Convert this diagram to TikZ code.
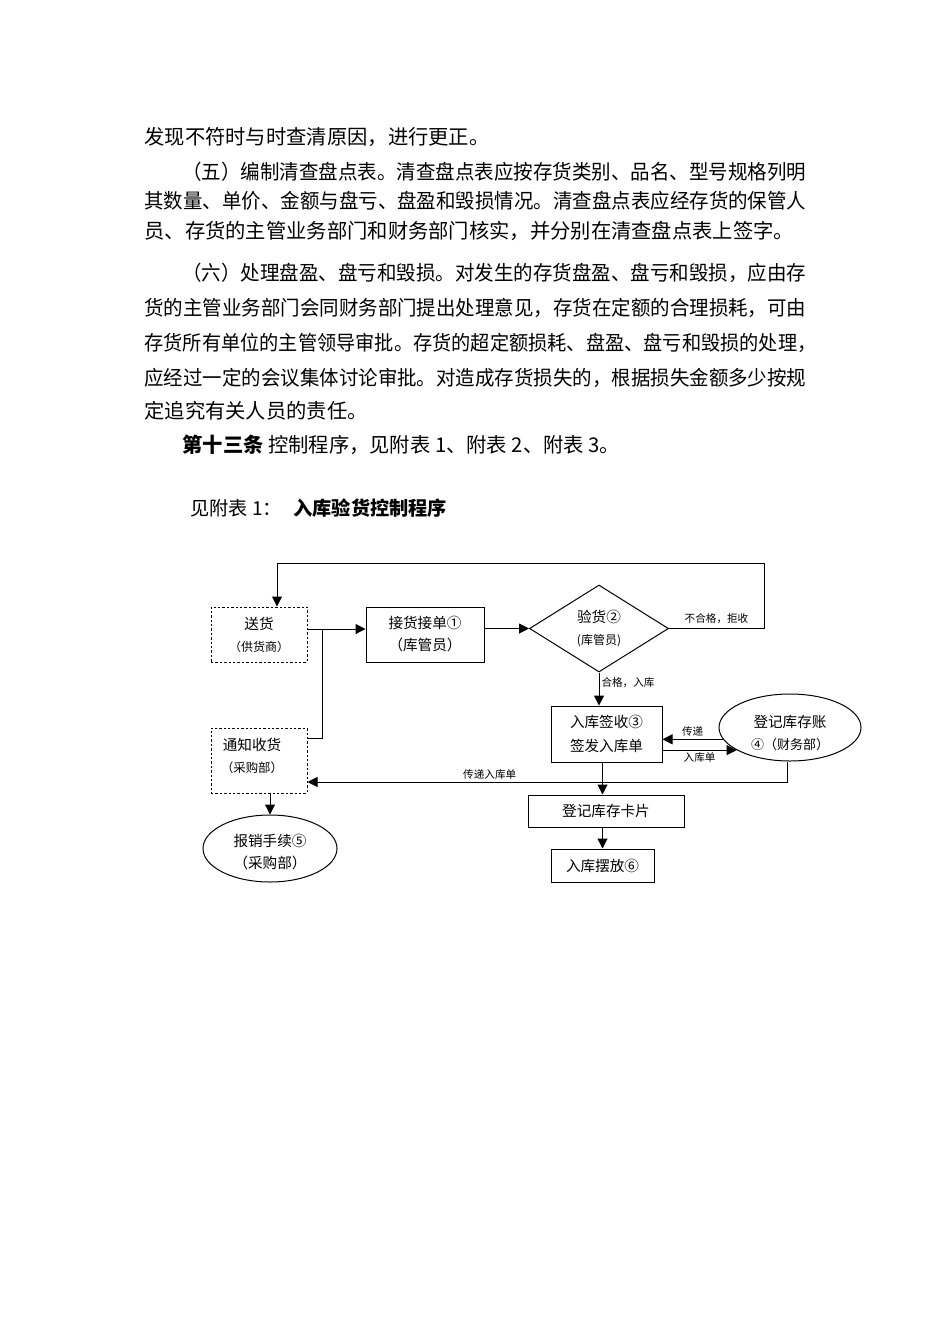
\documentclass[tikz,border=0pt]{standalone}
\usepackage{fontspec}
\usepackage{graphicx}
\setmainfont{Noto Sans CJK SC}
\usetikzlibrary{arrows.meta,shapes.geometric}
\newcommand{\bodysize}{\fontsize{10.15pt}{13pt}\selectfont}
\newcommand{\titlesize}{\fontsize{9.6pt}{12pt}\selectfont}
\newcommand{\boxsize}{\fontsize{7.3pt}{11pt}\selectfont}
\newcommand{\tagsize}{\fontsize{5.3pt}{7pt}\selectfont}
\newcommand{\fsz}[1]{\fontsize{#1}{11pt}\selectfont}
\newcommand{\fitline}[2]{\resizebox{#1}{\height}{#2}}
\begin{document}
\begin{tikzpicture}[x=0.5pt,y=-0.5pt,
  para/.style={anchor=west, inner sep=0pt, font=\bodysize},
  box/.style={draw, line width=0.5pt, align=center, inner sep=0pt, font=\boxsize},
  dbox/.style={box, dash pattern=on 1.2pt off 1pt},
  oval/.style={box, ellipse},
  flow/.style={line width=0.5pt, -{Triangle[length=5pt,width=5pt]}},
  link/.style={line width=0.5pt},
  tag/.style={font=\tagsize, inner sep=1pt}]
\useasboundingbox (0,0) rectangle (950,1344);
\fill[white] (0,0) rectangle (950,1344);

% body text
\node[para] (t1) at (144,137) {发现不符时与时查清原因，进行更正。};
\node[para] (t2) at (182,172) {\fitline{312pt}{（五）编制清查盘点表。清查盘点表应按存货类别、品名、型号规格列明}};
\node[para] (t3) at (144,201) {\fitline{331pt}{其数量、单价、金额与盘亏、盘盈和毁损情况。清查盘点表应经存货的保管人}};
\node[para] (t4) at (144,231) {员、存货的主管业务部门和财务部门核实，并分别在清查盘点表上签字。};
\node[para] (t5) at (182,273) {\fitline{312pt}{（六）处理盘盈、盘亏和毁损。对发生的存货盘盈、盘亏和毁损，应由存}};
\node[para] (t6) at (144,308) {\fitline{331pt}{货的主管业务部门会同财务部门提出处理意见，存货在定额的合理损耗，可由}};
\node[para] (t7) at (144,343) {\fitline{336pt}{存货所有单位的主管领导审批。存货的超定额损耗、盘盈、盘亏和毁损的处理，}};
\node[para] (t8) at (144,378) {\fitline{331pt}{应经过一定的会议集体讨论审批。对造成存货损失的，根据损失金额多少按规}};
\node[para] (t9) at (144,411) {定追究有关人员的责任。};
\node[para] (t10) at (182,445) {\textbf{第十三条} 控制程序，见附表 1、附表 2、附表 3。};
\node[para, font=\titlesize] (cap) at (190,508) {见附表 1：};
\node[para, font=\titlesize\bfseries] (title) at (293,508) {入库验货控制程序};

% flow chart
\node[dbox, minimum width=48pt, minimum height=27.5pt] (songhuo) at (259,634.5) {送货\\{\fsz{6pt}（供货商）}};
\node[box, minimum width=59pt, minimum height=27.5pt] (jiehuo) at (425,634.5) {接货接单①\\{\fsz{7.3pt}（库管员）}};
\node[box, diamond, minimum width=69.5pt, minimum height=43.5pt] (yanhuo) at (599,628.5) {验货②\\{\fsz{6pt}(库管员)}};
\node[box, minimum width=55.5pt, minimum height=28pt] (ruku) at (606.5,734) {入库签收③\\[1pt]签发入库单};
\node[oval, minimum width=71pt, minimum height=33.5pt,
  label={[font=\boxsize, align=center, yshift=-2.5pt]center:{登记库存账\\{\fsz{6.5pt}④（财务部）}}}] (zhang) at (790,727.5) {};
\node[box, minimum width=78pt, minimum height=16pt] (kapian) at (606,811) {登记库存卡片};
\node[box, minimum width=51.5pt, minimum height=16.5pt] (baifang) at (602.5,865.5) {入库摆放⑥};
\node[dbox, minimum width=48pt, minimum height=32.5pt,
  label={[font=\boxsize, align=center, xshift=-3.5pt, yshift=2.5pt]center:{通知收货\\{\fsz{6.2pt}（采购部）}}}] (tongzhi) at (259,760.5) {};
\node[oval, minimum width=67pt, minimum height=33.5pt,
  label={[font=\boxsize, align=center, yshift=-2pt]center:{报销手续⑤\\（采购部）}}] (baoxiao) at (270,848.5) {};

\coordinate (junc) at (322,629);
\coordinate (fbtop) at (764,563);
\coordinate (ret) at (787,782);

\draw[flow] (yanhuo.east) -| node[tag, pos=0.25, above, yshift=1pt] {不合格，拒收} (fbtop) -| ([xshift=9pt]songhuo.north);
\draw[flow] (songhuo.east |- junc) -- (jiehuo.west |- junc);
\draw[link] ([yshift=11.25pt]tongzhi.east) -| (junc);
\draw[flow] (jiehuo.east |- yanhuo.west) -- (yanhuo.west);
\draw[flow] (yanhuo.south) -- node[tag, right, pos=0.32] {合格，入库} (yanhuo.south |- ruku.north);
\draw[flow] (zhang.190) -- node[tag, above] {传递} (zhang.190 -| ruku.east);
\draw[flow] (zhang.203 -| ruku.east) -- node[tag, below] {入库单} (zhang.203);
\draw[flow] (ret |- zhang.south) |- node[tag, pos=0.81, above] {传递入库单} (tongzhi.east |- ret);
\draw[flow] (ruku.south -| baifang.north) -- (kapian.north -| baifang.north);
\draw[flow] (kapian.south -| baifang.north) -- (baifang.north);
\draw[flow] (baoxiao.north |- tongzhi.south) -- (baoxiao.north);
\end{tikzpicture}
\end{document}
